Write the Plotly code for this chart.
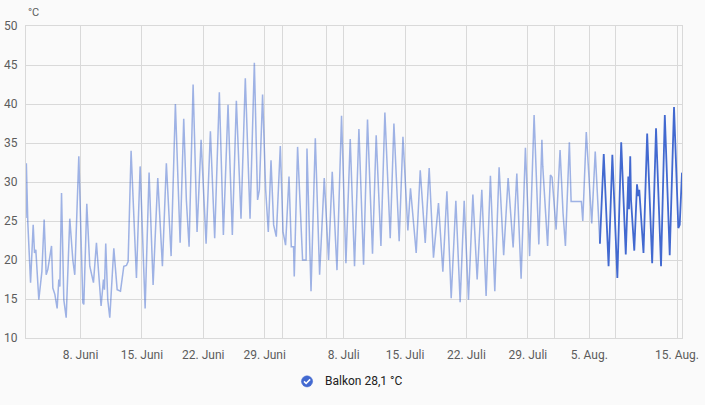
import pandas as pd
import plotly.graph_objects as go

# ---- data -------------------------------------------------------------
# time as fractional days since 1 June (statistics part, lighter line)
days_light = [
    0.79, 0.83, 1.00, 1.31, 1.61, 1.76, 1.91, 2.25, 2.60, 2.86, 3.09, 3.28, 3.70,
    3.85, 4.08, 4.34, 4.53, 4.65, 4.84, 5.10, 5.37, 5.78, 6.13, 6.35, 6.81, 7.27,
    7.38, 7.72, 8.06, 8.48, 8.82, 9.35, 9.62, 9.73, 9.88, 10.11, 10.34, 10.80,
    11.18, 11.56, 11.94, 12.24, 12.43, 12.77, 13.38, 13.80, 14.37, 14.82, 15.28,
    15.81, 16.34, 16.79, 17.33, 17.82, 18.36, 18.77, 19.07, 19.38, 19.84, 20.29,
    20.75, 21.32, 21.81, 22.30, 22.83, 23.29, 23.82, 24.31, 24.77, 25.30, 25.79,
    26.33, 26.82, 27.19, 27.39, 27.76, 28.11, 28.41, 28.72, 29.02, 29.32, 29.78,
    30.09, 30.38, 30.77, 31.03, 31.29, 31.37, 31.75, 32.32, 32.72, 32.82, 33.28,
    33.77, 34.26, 34.79, 35.28, 35.70, 36.24, 36.76, 37.26, 37.75, 38.24, 38.74,
    39.27, 39.72, 40.29, 40.71, 41.25, 41.70, 42.31, 42.73, 43.33, 43.76, 44.32,
    44.62, 45.27, 45.73, 46.30, 46.75, 47.24, 47.81, 48.31, 48.77, 49.26, 49.79,
    50.28, 50.74, 51.23, 51.73, 52.22, 52.75, 53.24, 53.73, 54.23, 54.72, 55.24,
    55.75, 56.32, 56.74, 57.23, 57.72, 58.20, 58.71, 59.25, 59.60, 59.70, 60.25,
    60.57, 60.76, 61.22, 61.67, 62.01, 62.28, 62.73, 62.93, 64.10, 64.26, 64.66,
    65.28, 65.68, 66.21,
]
temp_light = [
    25.4, 32.4, 24.7, 17.1, 24.5, 20.9, 21.3, 14.9, 18.5, 25.2, 18.1, 18.8, 21.8,
    16.4, 15.6, 13.8, 17.5, 16.6, 28.6, 14.9, 12.6, 25.3, 20.0, 18.1, 33.3, 14.5,
    14.3, 27.2, 19.2, 17.1, 22.2, 14.1, 17.5, 16.2, 22.1, 14.9, 12.6, 21.5,
    16.2, 16.0, 19.2, 19.3, 19.8, 34.0, 17.7, 32.0, 13.8, 31.2, 16.8,
    30.5, 19.2, 32.4, 20.5, 40.0, 22.2, 38.1, 27.7, 21.7, 42.5, 23.6,
    35.4, 22.1, 36.5, 22.8, 41.5, 23.2, 39.9, 23.2, 40.4, 25.3, 43.3,
    25.3, 45.3, 27.7, 29.0, 41.2, 29.0, 23.6, 32.8, 24.5, 23.0, 34.6,
    23.6, 21.9, 30.7, 21.7, 21.7, 17.9, 34.5, 20.0, 20.0, 34.3, 16.0,
    35.6, 18.1, 30.5, 20.0, 31.3, 18.7, 38.5, 19.6, 35.5, 19.2, 36.8,
    19.4, 38.0, 20.8, 36.0, 21.8, 38.9, 22.8, 37.5, 22.4, 35.8, 23.8,
    29.2, 20.9, 31.5, 22.2, 31.8, 20.3, 27.3, 18.5, 28.8, 15.1, 27.6,
    14.6, 27.6, 14.9, 28.4, 17.5, 29.0, 15.4, 30.8, 16.0, 31.9, 20.6,
    30.5, 21.6, 31.1, 17.6, 34.4, 20.5, 38.6, 22.0, 35.4, 32.0, 21.8,
    30.9, 30.6, 23.9, 34.1, 26.0, 21.8, 35.1, 27.5, 27.5, 25.0, 36.4,
    24.7, 33.9, 22.1,
]
# recent history part (darker line)
days_dark = [
    66.21, 66.65, 67.20, 67.63, 68.20, 68.64, 69.16, 69.45, 69.53, 69.67, 69.76,
    70.13, 70.44, 70.59, 70.70, 71.18, 71.60, 72.17, 72.61, 73.18, 73.61, 74.17,
    74.66, 75.15, 75.31, 75.57,
]
temp_dark = [
    22.1, 33.6, 19.2, 33.5, 17.7, 35.1, 20.7, 30.7, 26.5, 33.3, 27.7,
    21.2, 29.7, 28.2, 29.0, 20.9, 36.2, 19.6, 36.9, 19.2, 38.6, 20.6,
    39.6, 24.1, 24.5, 31.2,
]

tick_dates = ["2023-06-08", "2023-06-15", "2023-06-22", "2023-06-29", "2023-07-01",
              "2023-07-06", "2023-07-08", "2023-07-15", "2023-07-22", "2023-07-29",
              "2023-08-01", "2023-08-05", "2023-08-08", "2023-08-15"]
tick_labels = ["8. Juni", "15. Juni", "22. Juni", "29. Juni", "", "", "8. Juli",
               "15. Juli", "22. Juli", "29. Juli", "", "5. Aug.", "", "15. Aug."]

y_ticks = [10, 15, 20, 25, 30, 35, 40, 45, 50]

entity_name = "Balkon"
current_state = "28,1 °C"
unit = "°C"

# ---- build -----------------------------------------------------------
base = pd.Timestamp("2023-06-01")
t_light = base + pd.to_timedelta(days_light, unit="D")
t_dark = base + pd.to_timedelta(days_dark, unit="D")

blue = "#4269d0"
grid = "#d9d9d9"
txt = "#5c5c5c"

fig = go.Figure()
fig.add_trace(go.Scatter(x=t_light, y=temp_light, mode="lines",
                         line=dict(color="rgba(66,105,208,0.5)", width=1.5),
                         showlegend=False, hoverinfo="skip"))
fig.add_trace(go.Scatter(x=t_dark, y=temp_dark, mode="lines",
                         line=dict(color=blue, width=1.8),
                         showlegend=False, hoverinfo="skip"))

fig.update_layout(
    width=705, height=405,
    margin=dict(l=26, r=23, t=26, b=67),
    paper_bgcolor="#fafafa", plot_bgcolor="#fafafa",
    font=dict(family="Roboto, sans-serif", size=12, color=txt),
    showlegend=False,
)
fig.update_xaxes(
    range=[t_light[0], t_dark[-1]], automargin=False,
    tickmode="array", tickvals=pd.to_datetime(tick_dates), ticktext=tick_labels,
    showgrid=True, gridcolor=grid, gridwidth=1,
    showline=True, linecolor=grid, mirror=True,
    ticks="", ticklabelstandoff=6, zeroline=False,
    tickfont=dict(size=12, color=txt),
)
fig.update_yaxes(
    range=[10, 50], tickmode="array", tickvals=y_ticks, automargin=False,
    showgrid=True, gridcolor=grid, gridwidth=1,
    showline=True, linecolor=grid, mirror=True,
    ticks="", ticklabelstandoff=5, zeroline=False,
    tickfont=dict(size=12, color=txt),
)

fig.add_annotation(text=unit, xref="paper", yref="paper", x=0, y=1.042,
                   xanchor="left", yanchor="middle", showarrow=False,
                   font=dict(size=11, color=txt))

# legend-like checkbox + label
lx, ly = 0.4284, -0.139
fig.add_shape(type="circle", xref="paper", yref="paper",
              xsizemode="pixel", ysizemode="pixel", xanchor=lx, yanchor=ly,
              x0=-5.6, x1=5.6, y0=-5.6, y1=5.6,
              fillcolor=blue, line=dict(color=blue, width=0.5))
fig.add_shape(type="path", xref="paper", yref="paper",
              xsizemode="pixel", ysizemode="pixel", xanchor=lx, yanchor=ly,
              path="M -3 0 L -0.9 -2.1 L 3.1 2.0",
              line=dict(color="white", width=1.6))
fig.add_annotation(text=f"{entity_name} {current_state}", xref="paper", yref="paper",
                   x=0.4523, y=ly, xanchor="left", yanchor="middle", showarrow=False,
                   font=dict(size=12, color="#212121"))

fig.write_html("out.html", config={"displayModeBar": False},
               post_script="document.body.style.margin='0';"
                           "document.body.style.background='#fafafa';")
